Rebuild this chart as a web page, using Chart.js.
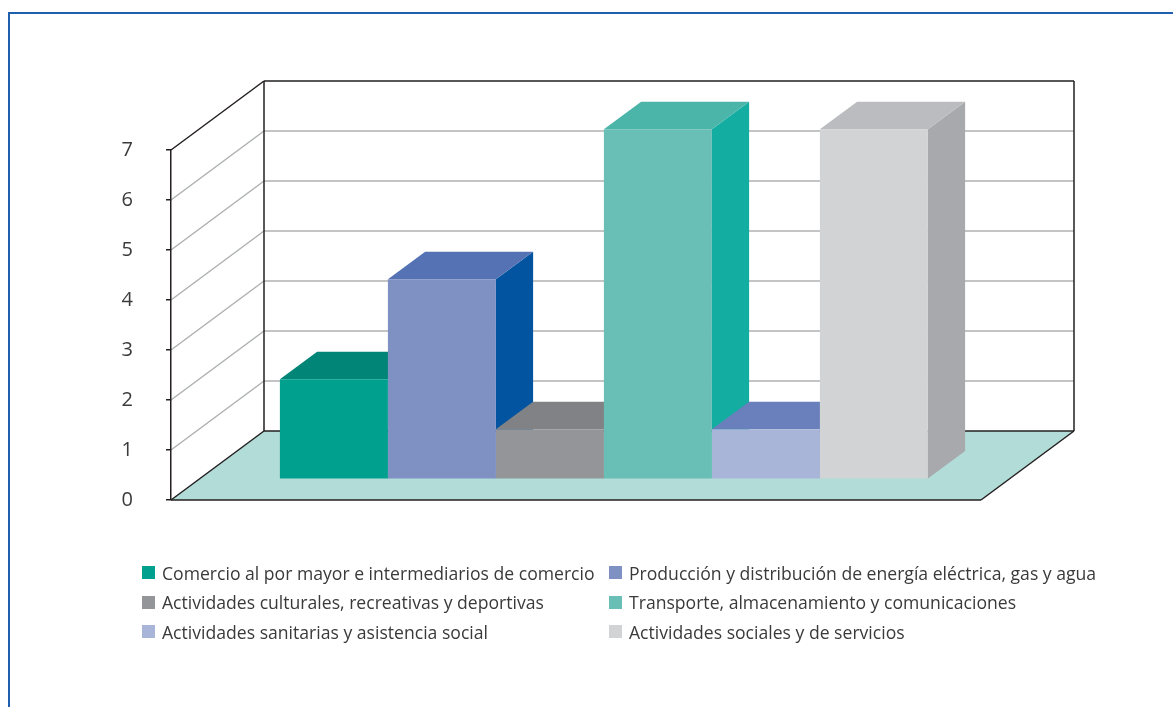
<!DOCTYPE html>
<html>
<head>
<meta charset="utf-8">
<script src="https://cdn.jsdelivr.net/npm/chart.js@4.4.1/dist/chart.umd.min.js"></script>
<style>
  html, body { margin: 0; padding: 0; background: #fff; overflow: hidden; }
  #wrap { position: relative; width: 1173px; height: 707px; }
  #frame { position: absolute; left: 8px; top: 12px; width: 1200px; height: 720px;
           border-left: 2px solid #1f5fae; border-top: 2px solid #1f5fae; }
  canvas { position: absolute; left: 0; top: 0; }
  #legend { position: absolute; left: 142px; top: 558px; display: grid;
            grid-template-columns: 467px auto; grid-auto-rows: 29.5px;
            font-family: 'Open Sans', sans-serif; font-size: 17.6px; color: #3a3a3a; }
  #legend .item { display: flex; align-items: center; white-space: nowrap; }
  #legend .box { width: 13px; height: 13px; margin-right: 7px; flex: none; }
</style>
</head>
<body>
<div id="wrap">
  <div id="frame"></div>
  <canvas id="chart" width="1173" height="707"></canvas>
  <div id="legend"></div>
</div>
<script>
const sectors = [
  'Comercio al por mayor e intermediarios de comercio',
  'Producción y distribución de energía eléctrica, gas y agua',
  'Actividades culturales, recreativas y deportivas',
  'Transporte, almacenamiento y comunicaciones',
  'Actividades sanitarias y asistencia social',
  'Actividades sociales y de servicios'
];
const values = [2, 4, 1, 7, 1, 7];
const yTicks = [0, 1, 2, 3, 4, 5, 6, 7];

// face colours: front / top / right side
const frontColors = ['#00a08f', '#7f91c3', '#939598', '#69beb5', '#a8b5d9', '#d1d3d4'];
const topColors = ['#008577', '#5573b4', '#808285', '#4bb5aa', '#6980bc', '#bbbcbf'];
const sideColors = ['#006e63', '#0253a0', '#6d6e71', '#13ada1', '#5670b0', '#a7a9ac'];

// fake perspective: depth vector of the whole box, bars sit inside it
const depth = { dx: 93, dy: -69, front: 0.3, size: 0.4 };
const lineColor = '#231f20';
const gridColor = '#aeb0b2';
const floorColor = '#b2dcd8';

function poly(ctx, pts, fill) {
  ctx.beginPath();
  ctx.moveTo(pts[0][0], pts[0][1]);
  for (let i = 1; i < pts.length; i++) ctx.lineTo(pts[i][0], pts[i][1]);
  ctx.closePath();
  ctx.fillStyle = fill;
  ctx.fill();
}

function line(ctx, x1, y1, x2, y2) {
  ctx.beginPath();
  ctx.moveTo(x1, y1);
  ctx.lineTo(x2, y2);
  ctx.stroke();
}

const box3d = {
  id: 'box3d',
  afterDatasetsUpdate(chart) {
    const ox = depth.dx * depth.front, oy = depth.dy * depth.front;
    chart.data.datasets.forEach((ds, i) => {
      chart.getDatasetMeta(i).data.forEach(bar => {
        bar.x += ox;
        bar.y += oy;
        bar.base += oy;
      });
    });
  },
  beforeDraw(chart) {
    const { ctx, chartArea: a, scales: { y } } = chart;
    const dx = depth.dx, dy = depth.dy;
    const y0 = y.getPixelForValue(yTicks[0]);
    const yTop = y.getPixelForValue(yTicks[yTicks.length - 1]);
    ctx.save();

    // floor
    poly(ctx, [[a.left, y0], [a.right, y0], [a.right + dx, y0 + dy], [a.left + dx, y0 + dy]], floorColor);

    // grid lines on side and back wall
    ctx.strokeStyle = gridColor;
    ctx.lineWidth = 1.5;
    yTicks.slice(1, -1).forEach(v => {
      const py = y.getPixelForValue(v);
      line(ctx, a.left, py, a.left + dx, py + dy);
      line(ctx, a.left + dx, py + dy, a.right + dx, py + dy);
    });

    // box edges
    ctx.strokeStyle = lineColor;
    ctx.lineWidth = 1.5;
    line(ctx, a.left, yTop, a.left + dx, yTop + dy);
    line(ctx, a.left + dx, yTop + dy, a.right + dx, yTop + dy);
    line(ctx, a.left + dx, yTop + dy, a.left + dx, y0 + dy);
    line(ctx, a.right + dx, yTop + dy, a.right + dx, y0 + dy);
    line(ctx, a.left, y0, a.left + dx, y0 + dy);
    line(ctx, a.left + dx, y0 + dy, a.right + dx, y0 + dy);
    line(ctx, a.left, y0, a.right, y0);
    line(ctx, a.right, y0, a.right + dx, y0 + dy);
    ctx.restore();
  },
  beforeDatasetsDraw(chart) {
    const ctx = chart.ctx;
    const bx = depth.dx * depth.size, by = depth.dy * depth.size;
    ctx.save();
    chart.data.datasets.forEach((ds, i) => {
      chart.getDatasetMeta(i).data.forEach(bar => {
        const l = bar.x - bar.width / 2, r = bar.x + bar.width / 2;
        poly(ctx, [[r, bar.y], [r + bx, bar.y + by], [r + bx, bar.base + by], [r, bar.base]], sideColors[i]);
        poly(ctx, [[l, bar.y], [l + bx, bar.y + by], [r + bx, bar.y + by], [r, bar.y]], topColors[i]);
      });
    });
    ctx.restore();
  }
};

const datasets = sectors.map((name, i) => ({
  label: name,
  data: [values[i]],
  backgroundColor: frontColors[i],
  borderWidth: 0,
  clip: false,
  categoryPercentage: 0.8,
  barPercentage: 1.0
}));

const chart = new Chart(document.getElementById('chart'), {
  type: 'bar',
  data: { labels: [''], datasets },
  options: {
    responsive: false,
    animation: false,
    events: [],
    layout: { padding: { left: 0, right: 192, top: 150, bottom: 207 } },
    plugins: { legend: { display: false }, tooltip: { enabled: false } },
    scales: {
      x: { display: false },
      y: {
        min: yTicks[0],
        max: yTicks[yTicks.length - 1],
        afterFit(scale) { scale.width = 171; },
        ticks: {
          stepSize: 1,
          padding: 33,
          color: '#3b3b3b',
          font: { family: "'Open Sans', sans-serif", size: 20 }
        },
        grid: { drawOnChartArea: false, drawTicks: true, tickLength: 5, color: lineColor, lineWidth: 1.5 },
        border: { display: true, color: lineColor, width: 1.5 }
      }
    }
  },
  plugins: [box3d]
});

// two-column legend built from the same arrays
const legend = document.getElementById('legend');
sectors.forEach((name, i) => {
  const item = document.createElement('div');
  item.className = 'item';
  const box = document.createElement('span');
  box.className = 'box';
  box.style.background = frontColors[i];
  item.appendChild(box);
  item.appendChild(document.createTextNode(name));
  legend.appendChild(item);
});
</script>
</body>
</html>
